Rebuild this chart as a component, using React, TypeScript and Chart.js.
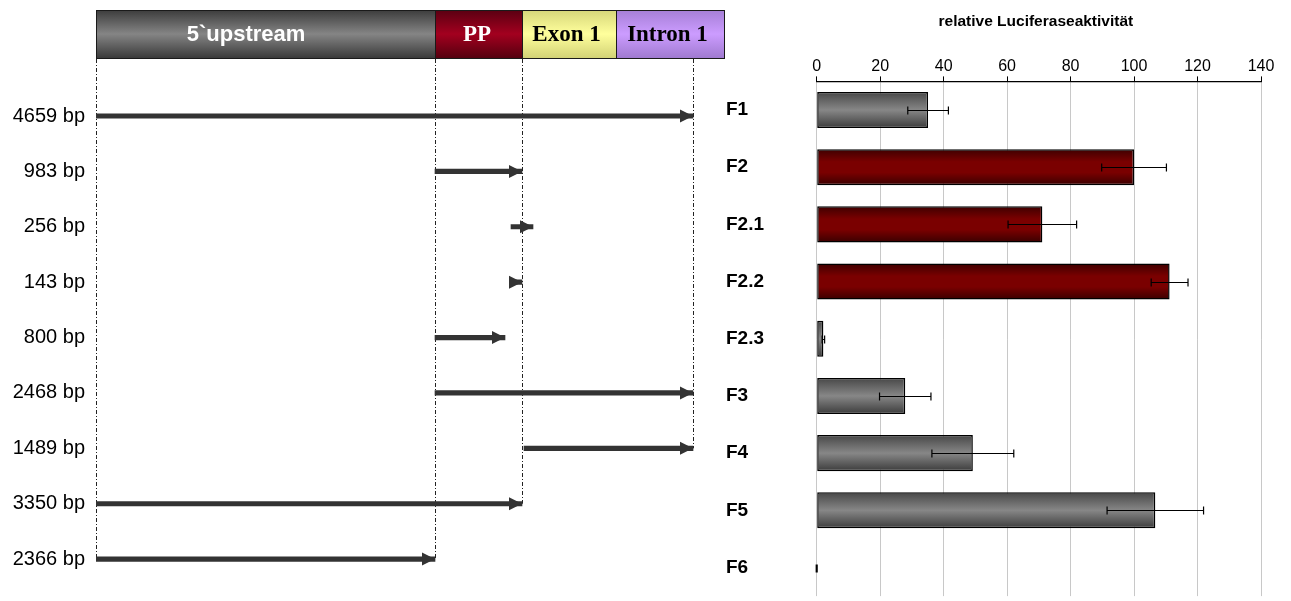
import { useEffect, useRef } from 'react';
import { Chart, registerables } from 'chart.js';

Chart.register(...registerables);

const SANS = '"Liberation Sans", Arial, Helvetica, sans-serif';
const SERIF = '"Liberation Serif", "Times New Roman", serif';

// Promoter map, in schematic units along the construct
const regionNames = ['5`upstream', 'PP', 'Exon 1', 'Intron 1'];
const regionStarts = [0, 339, 426, 520];
const regionEnds = [339, 426, 520, 628];

// Reporter fragments cloned from the map
const fragmentLabels = ['4659 bp', '983 bp', '256 bp', '143 bp', '800 bp', '2468 bp', '1489 bp', '3350 bp', '2366 bp'];
const fragmentStarts = [0, 339, 415, 414, 339, 339, 428, 0, 0];
const fragmentEnds = [597, 426, 437, 426, 409, 597, 597, 426, 339];
const guideMarks = [0, 339, 426, 597];

// Relative luciferase activity per construct
const constructNames = ['F1', 'F2', 'F2.1', 'F2.2', 'F2.3', 'F3', 'F4', 'F5', 'F6'];
const activity = [35.1, 100, 71.1, 111.2, 2.1, 27.9, 49.2, 106.7, 0];
const activityError = [6.4, 10.2, 10.8, 5.8, 0.4, 8.1, 12.9, 15.2, 0.15];
const barTone = ['grey', 'red', 'red', 'red', 'grey', 'grey', 'grey', 'grey', 'grey'];
const axisMin = 0;
const axisMax = 140;
const axisStep = 20;
const chartTitle = 'relative Luciferaseaktivität';

const BAR_FRACTION = 0.63;

const regionStyle = [
  { stops: ['#3c3c3c', '#858585', '#3a3a3a'], text: '#ffffff', font: `bold 22px ${SANS}`, dx: -20 },
  { stops: ['#5a0012', '#a3001f', '#55000f'], text: '#ffffff', font: `bold 23px ${SERIF}`, dx: -2 },
  { stops: ['#d6d67a', '#ffff9c', '#d2d276'], text: '#000000', font: `bold 23px ${SERIF}`, dx: -3 },
  { stops: ['#a57fd6', '#cc9cff', '#a07ad0'], text: '#000000', font: `bold 23px ${SERIF}`, dx: -3 },
];

const HEADER_TOP = 10;
const HEADER_BOTTOM = 58;

const headerPlugin = {
  id: 'promoterHeader',
  afterDraw(chart: any) {
    const { ctx } = chart;
    const x = chart.scales.x;
    ctx.save();
    regionNames.forEach((name, i) => {
      const x1 = Math.round(x.getPixelForValue(regionStarts[i])) + 0.5;
      const x2 = Math.round(x.getPixelForValue(regionEnds[i])) + 0.5;
      const st = regionStyle[i];
      const g = ctx.createLinearGradient(0, HEADER_TOP, 0, HEADER_BOTTOM);
      g.addColorStop(0, st.stops[0]);
      g.addColorStop(0.5, st.stops[1]);
      g.addColorStop(1, st.stops[2]);
      ctx.fillStyle = g;
      ctx.fillRect(x1, HEADER_TOP, x2 - x1, HEADER_BOTTOM - HEADER_TOP);
      ctx.strokeStyle = '#1a1a1a';
      ctx.lineWidth = 1;
      ctx.strokeRect(x1, HEADER_TOP + 0.5, x2 - x1, HEADER_BOTTOM - HEADER_TOP);
      ctx.fillStyle = st.text;
      ctx.font = st.font;
      ctx.textAlign = 'center';
      ctx.textBaseline = 'middle';
      ctx.fillText(name, (x1 + x2) / 2 + st.dx, (HEADER_TOP + HEADER_BOTTOM) / 2 + 1);
    });
    ctx.restore();
  },
};

const guidePlugin = {
  id: 'dashGuides',
  beforeDatasetsDraw(chart: any) {
    const { ctx } = chart;
    const x = chart.scales.x;
    const meta = chart.getDatasetMeta(0);
    ctx.save();
    ctx.strokeStyle = '#222';
    ctx.lineWidth = 1;
    ctx.setLineDash([4, 2, 1, 2]);
    guideMarks.forEach((mark) => {
      let last = -1;
      fragmentLabels.forEach((_, i) => {
        if (Math.abs(fragmentStarts[i] - mark) <= 3 || Math.abs(fragmentEnds[i] - mark) <= 3) last = i;
      });
      if (last < 0) return;
      const px = Math.round(x.getPixelForValue(mark)) + 0.5;
      ctx.beginPath();
      ctx.moveTo(px, HEADER_BOTTOM + 1);
      ctx.lineTo(px, meta.data[last].y);
      ctx.stroke();
    });
    ctx.restore();
  },
};

const arrowHeadPlugin = {
  id: 'arrowHeads',
  afterDatasetsDraw(chart: any) {
    const { ctx } = chart;
    const x = chart.scales.x;
    const meta = chart.getDatasetMeta(0);
    ctx.save();
    ctx.fillStyle = '#333333';
    meta.data.forEach((bar: any, i: number) => {
      const tip = x.getPixelForValue(fragmentEnds[i]);
      const y = bar.y;
      ctx.beginPath();
      ctx.moveTo(tip, y);
      ctx.lineTo(tip - 13, y - 6.5);
      ctx.lineTo(tip - 13, y + 6.5);
      ctx.closePath();
      ctx.fill();
    });
    ctx.restore();
  },
};

const errorBarPlugin = {
  id: 'errorBars',
  afterDatasetsDraw(chart: any) {
    const { ctx } = chart;
    const x = chart.scales.x;
    const meta = chart.getDatasetMeta(0);
    ctx.save();
    ctx.strokeStyle = '#000';
    ctx.lineWidth = 1.2;
    meta.data.forEach((bar: any, i: number) => {
      const v = activity[i];
      const e = activityError[i];
      const x1 = x.getPixelForValue(v - e);
      const x2 = x.getPixelForValue(v + e);
      const y = Math.round(bar.y) + 0.5;
      ctx.beginPath();
      ctx.moveTo(x1, y);
      ctx.lineTo(x2, y);
      ctx.moveTo(x1, y - 4);
      ctx.lineTo(x1, y + 4);
      ctx.moveTo(x2, y - 4);
      ctx.lineTo(x2, y + 4);
      ctx.stroke();
    });
    ctx.restore();
  },
};

const titlePlugin = {
  id: 'topTitle',
  afterDraw(chart: any) {
    const { ctx, chartArea } = chart;
    ctx.save();
    ctx.fillStyle = '#000';
    ctx.font = `bold 15.5px ${SANS}`;
    ctx.textAlign = 'center';
    ctx.textBaseline = 'middle';
    ctx.fillText(chartTitle, (chartArea.left + chartArea.right) / 2 - 3, 22);
    ctx.restore();
  },
};

function barFill(c: any) {
  const tone = barTone[c.dataIndex];
  const flat = tone === 'red' ? '#7a0000' : '#808080';
  const chart = c.chart;
  const y = chart.scales && chart.scales.y;
  if (c.dataIndex === undefined || !y || !chart.chartArea) return flat;
  const center = y.getPixelForValue(c.dataIndex);
  const half = ((y.height / constructNames.length) * BAR_FRACTION) / 2;
  const g = chart.ctx.createLinearGradient(0, center - half, 0, center + half);
  if (tone === 'red') {
    g.addColorStop(0, '#3e0000');
    g.addColorStop(0.35, '#7a0000');
    g.addColorStop(0.65, '#7a0000');
    g.addColorStop(1, '#3a0000');
  } else {
    g.addColorStop(0, '#474747');
    g.addColorStop(0.5, '#878787');
    g.addColorStop(1, '#3c3c3c');
  }
  return g;
}

export default function App() {
  const mapRef = useRef<HTMLCanvasElement | null>(null);
  const barRef = useRef<HTMLCanvasElement | null>(null);

  useEffect(() => {
    Chart.defaults.font.family = SANS;
    Chart.defaults.color = '#000';

    const mapChart = new Chart(mapRef.current as HTMLCanvasElement, {
      type: 'bar',
      data: {
        labels: fragmentLabels,
        datasets: [
          {
            data: fragmentLabels.map((_, i) => [fragmentStarts[i], fragmentEnds[i]]) as any,
            backgroundColor: '#333333',
            borderWidth: 0,
            barThickness: 4.5,
          },
        ],
      },
      options: {
        indexAxis: 'y',
        animation: false,
        responsive: true,
        maintainAspectRatio: false,
        events: [],
        layout: { padding: { top: 88.3, right: 2, bottom: 14.2, left: 0 } },
        plugins: { legend: { display: false }, tooltip: { enabled: false } },
        scales: {
          x: { display: false, min: regionStarts[0], max: regionEnds[regionEnds.length - 1] },
          y: {
            ticks: { font: { size: 20, lineHeight: 0.2 }, color: '#000', padding: 11 },
            grid: { display: false, drawTicks: false },
            border: { display: false },
            afterFit: (s: any) => {
              s.width = 96;
            },
          },
        },
      },
      plugins: [guidePlugin, arrowHeadPlugin, headerPlugin],
    });

    const barChart = new Chart(barRef.current as HTMLCanvasElement, {
      type: 'bar',
      data: {
        labels: constructNames,
        datasets: [
          {
            data: activity,
            backgroundColor: barFill,
            borderColor: '#000',
            borderWidth: 1.5,
            borderSkipped: false,
            barPercentage: BAR_FRACTION,
            categoryPercentage: 1,
          },
        ],
      },
      options: {
        indexAxis: 'y',
        animation: false,
        responsive: true,
        maintainAspectRatio: false,
        events: [],
        layout: { padding: { top: 0, right: 30, bottom: 3.5, left: 0 } },
        plugins: { legend: { display: false }, tooltip: { enabled: false } },
        scales: {
          x: {
            position: 'top',
            min: axisMin,
            max: axisMax,
            ticks: { stepSize: axisStep, font: { size: 16 }, color: '#000', padding: 0 },
            grid: { color: '#c8c8c8', tickColor: '#000', tickLength: 5, lineWidth: 1 },
            border: { color: '#000', width: 1.2 },
            afterFit: (s: any) => {
              s.height = 81.4;
            },
          },
          y: {
            ticks: { font: { size: 19, weight: 'bold', lineHeight: 0.2 }, color: '#000', crossAlign: 'far' },
            grid: { display: false, drawTicks: false },
            border: { display: false },
            afterFit: (s: any) => {
              s.width = 90.7;
            },
          },
        },
      },
      plugins: [errorBarPlugin, titlePlugin],
    });

    return () => {
      mapChart.destroy();
      barChart.destroy();
    };
  }, []);

  return (
    <div style={{ position: 'absolute', left: 0, top: 0, width: 1291, height: 601, background: '#fff' }}>
      <div style={{ position: 'absolute', left: 0, top: 0, width: 726, height: 601 }}>
        <canvas ref={mapRef} />
      </div>
      <div style={{ position: 'absolute', left: 726, top: 0, width: 565, height: 601 }}>
        <canvas ref={barRef} />
      </div>
    </div>
  );
}
